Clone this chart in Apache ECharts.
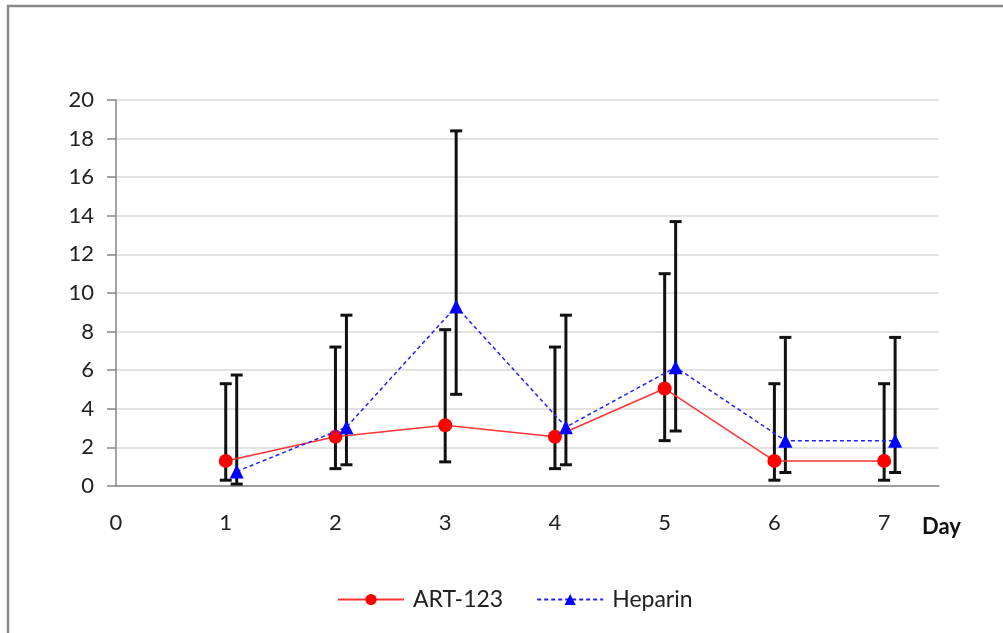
<!DOCTYPE html>
<html>
<head>
<meta charset="utf-8">
<script src="https://cdn.jsdelivr.net/npm/echarts@6/dist/echarts.min.js"></script>
<style>
  html, body { margin: 0; padding: 0; background: #ffffff; }
  #chart { width: 1003px; height: 633px; }
</style>
</head>
<body>
<div id="chart"></div>
<script>
// ---- Data ----
const seriesNames = ['ART-123', 'Heparin'];
const xTickLabels = ['0', '1', '2', '3', '4', '5', '6', '7'];
const xAxisTitle = 'Day';

const artDays = [1, 2, 3, 4, 5, 6, 7];
const artMean = [1.3, 2.55, 3.15, 2.55, 5.05, 1.3, 1.3];
const artLow  = [0.3, 0.9, 1.25, 0.9, 2.35, 0.3, 0.3];
const artHigh = [5.3, 7.2, 8.1, 7.2, 11.0, 5.3, 5.3];

const hepDays = [1.1, 2.1, 3.1, 4.1, 5.1, 6.1, 7.1];
const hepMean = [0.75, 3.05, 9.3, 3.05, 6.15, 2.35, 2.35];
const hepLow  = [0.1, 1.1, 4.75, 1.1, 2.85, 0.7, 0.7];
const hepHigh = [5.75, 8.85, 18.4, 8.85, 13.7, 7.7, 7.7];

// ---- Build options ----
const FONT = 'Lato, "Open Sans", sans-serif';
const artLine = artDays.map((d, i) => [d, artMean[i]]);
const hepLine = hepDays.map((d, i) => [d, hepMean[i]]);
const artErr = artDays.map((d, i) => [d, artLow[i], artHigh[i]]);
const hepErr = hepDays.map((d, i) => [d, hepLow[i], hepHigh[i]]);

function errorRender(params, api) {
  const x = api.value(0);
  const lo = api.coord([x, api.value(1)]);
  const hi = api.coord([x, api.value(2)]);
  const half = 6;
  const style = { stroke: '#111111', lineWidth: 3 };
  return {
    type: 'group',
    children: [
      { type: 'line', shape: { x1: lo[0], y1: lo[1], x2: hi[0], y2: hi[1] }, style: style },
      { type: 'line', shape: { x1: hi[0] - half, y1: hi[1], x2: hi[0] + half, y2: hi[1] }, style: style },
      { type: 'line', shape: { x1: lo[0] - half, y1: lo[1], x2: lo[0] + half, y2: lo[1] }, style: style }
    ]
  };
}

const chart = echarts.init(document.getElementById('chart'), null, { renderer: 'canvas' });
chart.setOption({
  backgroundColor: '#ffffff',
  animation: false,
  textStyle: { fontFamily: FONT },
  graphic: [
    {
      type: 'rect', silent: true, z: -10,
      shape: { x: 8, y: 6, width: 1200, height: 800 },
      style: { fill: 'none', stroke: '#8a8a8a', lineWidth: 2.5 }
    },
    {
      type: 'text', left: 922, top: 516,
      style: { text: xAxisTitle, fontFamily: FONT, fontSize: 22, fontWeight: 'bold', fill: '#111111' }
    }
  ],
  grid: { left: 116, right: 64, top: 100, bottom: 147, containLabel: false },
  legend: {
    data: seriesNames,
    top: 583,
    left: 332,
    itemWidth: 66,
    itemHeight: 14,
    itemGap: 33,
    textStyle: { fontFamily: FONT, fontSize: 23, color: '#222222', padding: [0, 0, 0, 4] }
  },
  xAxis: {
    type: 'value',
    min: 0, max: 7.5, interval: 1,
    axisLine: { show: true, lineStyle: { color: '#868686', width: 1.5 } },
    axisTick: { show: false },
    splitLine: { show: false },
    axisLabel: {
      fontFamily: FONT, fontSize: 22, color: '#222222', margin: 26,
      showMaxLabel: false,
      formatter: function (v) {
        const idx = Math.round(v);
        return Math.abs(v - idx) < 1e-9 && xTickLabels[idx] !== undefined ? xTickLabels[idx] : '';
      }
    }
  },
  yAxis: {
    type: 'value',
    min: 0, max: 20, interval: 2,
    axisLine: { show: true, lineStyle: { color: '#868686', width: 1.5 } },
    axisTick: { show: true, inside: false, length: 9, lineStyle: { color: '#868686', width: 1.5 } },
    splitLine: { show: true, lineStyle: { color: '#d9d9d9', width: 1.5 } },
    axisLabel: { fontFamily: FONT, fontSize: 22, color: '#222222', margin: 22 }
  },
  series: [
    {
      name: 'ART-123 error', type: 'custom', renderItem: errorRender, data: artErr,
      encode: { x: 0, y: [1, 2] }, z: 2, silent: true
    },
    {
      name: 'Heparin error', type: 'custom', renderItem: errorRender, data: hepErr,
      encode: { x: 0, y: [1, 2] }, z: 2, silent: true
    },
    {
      name: 'ART-123', type: 'line', data: artLine, z: 3,
      symbol: 'circle', symbolSize: 14,
      itemStyle: { color: '#ff0000' },
      lineStyle: { color: '#ff3333', width: 1.5 }
    },
    {
      name: 'Heparin', type: 'line', data: hepLine, z: 4,
      symbol: 'triangle', symbolSize: 14,
      itemStyle: { color: '#0000ff' },
      lineStyle: { color: '#2020ff', width: 1.5, type: [4, 3] }
    }
  ]
});
</script>
</body>
</html>
